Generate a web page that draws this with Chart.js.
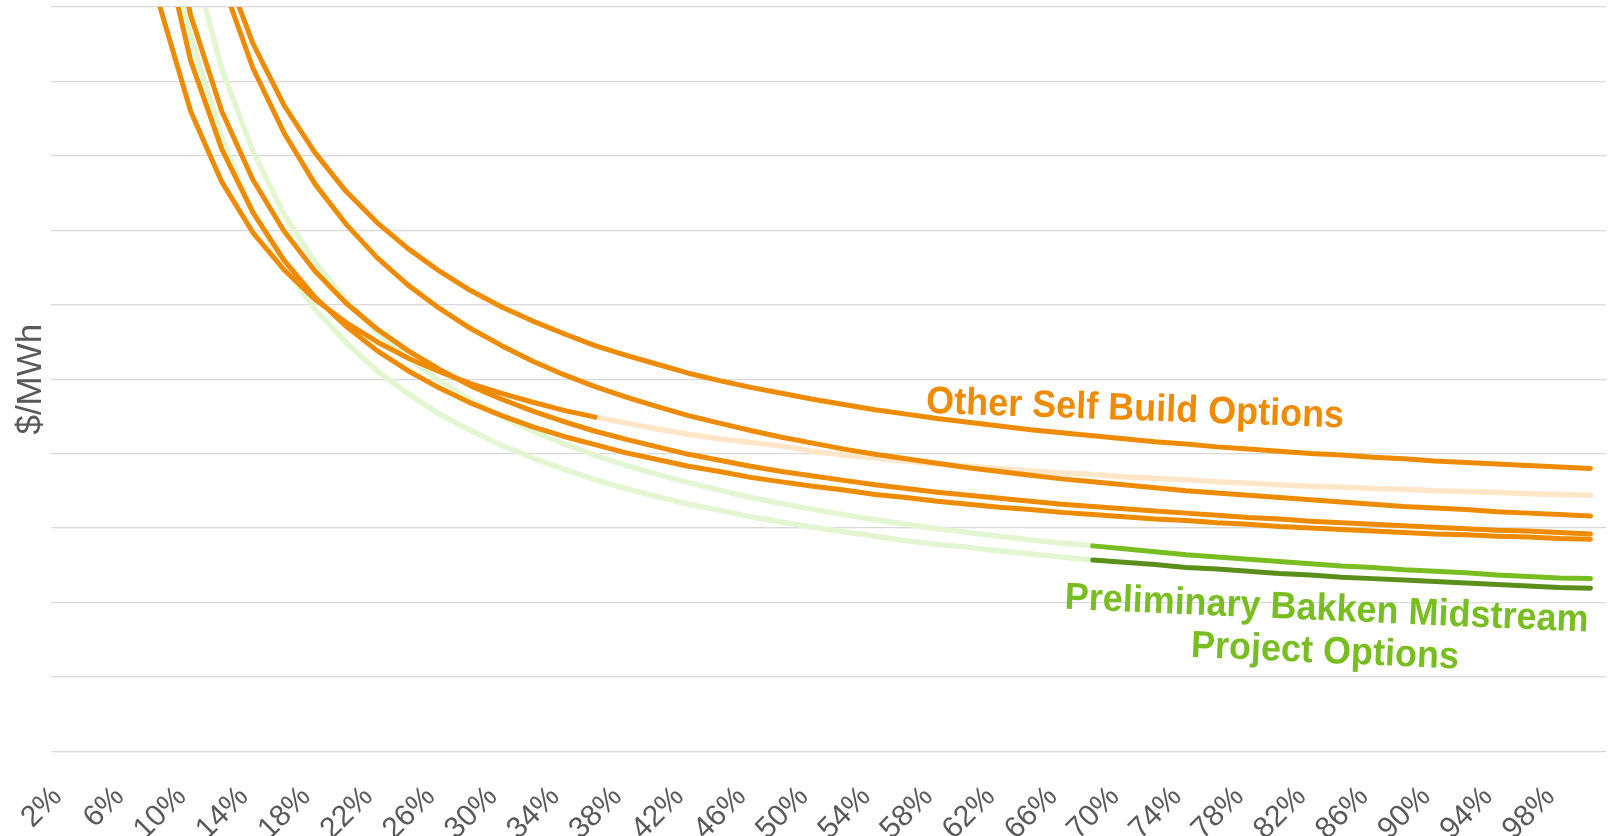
<!DOCTYPE html>
<html>
<head>
<meta charset="utf-8">
<script src="https://cdn.jsdelivr.net/npm/chart.js@4.4.1/dist/chart.umd.min.js"></script>
<style>
  html, body { margin: 0; padding: 0; background: #fff; }
  #wrap { width: 1616px; height: 836px; }
</style>
</head>
<body>
<div id="wrap"><canvas id="chart"></canvas></div>
<script>
const xLabels = ['2%', '4%', '6%', '8%', '10%', '12%', '14%', '16%', '18%', '20%',
  '22%', '24%', '26%', '28%', '30%', '32%', '34%', '36%', '38%', '40%',
  '42%', '44%', '46%', '48%', '50%', '52%', '54%', '56%', '58%', '60%',
  '62%', '64%', '66%', '68%', '70%', '72%', '74%', '76%', '78%', '80%',
  '82%', '84%', '86%', '88%', '90%', '92%', '94%', '96%', '98%', '100%'];

// other self build options ($/MWh; axis has no numbers)
const selfBuildA = [null, null, null, null, null, 106.2, 95.1, 86.8, 80.4, 75.2,
  71.0, 67.5, 64.5, 61.9, 59.7, 57.8, 56.1, 54.5, 53.2, 52.0,
  50.8, 49.8, 48.9, 48.1, 47.3, 46.6, 45.9, 45.3, 44.7, 44.2,
  43.7, 43.2, 42.8, 42.4, 42.0, 41.6, 41.3, 40.9, 40.6, 40.3,
  40.0, 39.8, 39.5, 39.3, 39.0, 38.8, 38.6, 38.4, 38.2, 38.0];
const selfBuildB = [null, null, null, null, null, 103.5, 91.8, 83.1, 76.2, 70.8,
  66.3, 62.6, 59.5, 56.8, 54.5, 52.4, 50.6, 49.0, 47.6, 46.3,
  45.1, 44.1, 43.1, 42.2, 41.4, 40.6, 39.9, 39.3, 38.7, 38.1,
  37.6, 37.1, 36.6, 36.2, 35.8, 35.4, 35.0, 34.7, 34.4, 34.1,
  33.8, 33.5, 33.2, 32.9, 32.7, 32.5, 32.2, 32.0, 31.8, 31.6];
const selfBuildC = [null, null, 123.9, 100.2, 86.0, 76.5, 69.7, 64.7, 60.7, 57.6,
  55.0, 52.8, 51.0, 49.4, 48.1, 46.9, 45.8, 44.9, 44.1, 43.3,
  42.6, 42.0, 41.5, 41.0, 40.3, 39.8, 39.4, 39.0, 38.6, 38.3,
  38.0, 37.7, 37.4, 37.2, 36.9, 36.7, 36.5, 36.2, 36.0, 35.8,
  35.6, 35.5, 35.3, 35.2, 35.0, 34.9, 34.8, 34.6, 34.5, 34.4];
const selfBuildD = [null, null, null, 110.7, 92.8, 80.9, 72.4, 66.0, 61.0, 57.1,
  53.8, 51.1, 48.8, 46.8, 45.1, 43.6, 42.3, 41.2, 40.1, 39.2,
  38.3, 37.6, 36.8, 36.2, 35.6, 35.1, 34.5, 34.1, 33.6, 33.2,
  32.8, 32.5, 32.1, 31.8, 31.5, 31.2, 31.0, 30.7, 30.5, 30.2,
  30.0, 29.8, 29.6, 29.4, 29.2, 29.1, 28.9, 28.8, 28.6, 28.5];
const selfBuildE = [null, null, null, 118.3, 98.9, 86.0, 76.8, 69.9, 64.5, 60.2,
  56.7, 53.8, 51.3, 49.1, 47.3, 45.7, 44.3, 43.0, 41.9, 40.9,
  39.9, 39.1, 38.3, 37.6, 37.0, 36.4, 35.8, 35.3, 34.8, 34.4,
  34.0, 33.6, 33.2, 32.9, 32.6, 32.3, 32.0, 31.7, 31.4, 31.2,
  30.9, 30.7, 30.5, 30.3, 30.1, 29.9, 29.7, 29.6, 29.4, 29.2];

// preliminary Bakken midstream project options
const bakkenA = [null, null, null, null, 107.3, 91.7, 80.6, 72.2, 65.7, 60.6,
  56.3, 52.8, 49.8, 47.2, 45.0, 43.0, 41.3, 39.8, 38.4, 37.2,
  36.1, 35.1, 34.1, 33.3, 32.5, 31.8, 31.1, 30.5, 29.9, 29.4,
  28.9, 28.4, 28.0, 27.6, 27.2, 26.8, 26.4, 26.1, 25.8, 25.5,
  25.2, 24.9, 24.7, 24.4, 24.2, 24.0, 23.7, 23.5, 23.3, 23.2];
const bakkenB = [null, null, null, 116.7, 96.1, 82.4, 72.5, 65.2, 59.4, 54.9,
  51.1, 48.0, 45.3, 43.1, 41.1, 39.4, 37.9, 36.5, 35.3, 34.2,
  33.2, 32.4, 31.5, 30.8, 30.1, 29.5, 28.9, 28.3, 27.8, 27.4,
  26.9, 26.5, 26.1, 25.7, 25.4, 25.1, 24.7, 24.5, 24.2, 23.9,
  23.7, 23.4, 23.2, 23.0, 22.8, 22.6, 22.4, 22.2, 22.0, 21.9];

// where the highlighted parts start / stop
const fadeAfter = xLabels.indexOf('36%');
const brightFrom = xLabels.indexOf('68%');

const ORANGE = '#EE8B00';
const PALE_ORANGE = '#FFE6C8';
const GREEN = '#78BE20';
const DARK_GREEN = '#5B8F1C';
const PALE_GREEN = '#E3F6D2';

const upTo = (arr, i) => arr.map((v, k) => k <= i ? v : null);
const from = (arr, i) => arr.map((v, k) => k >= i ? v : null);

function line(data, color, width) {
  return {
    data,
    borderColor: color,
    borderWidth: width,
    pointRadius: 0,
    pointHoverRadius: 0,
    borderCapStyle: 'round',
    borderJoinStyle: 'round',
    tension: 0,
    fill: false
  };
}

// text drawn next to the curves
const notes = [
  { text: 'Other Self Build Options', pct: 70.7, val: 44.5, tilt: 2.0, color: ORANGE },
  { text: 'Preliminary Bakken Midstream', pct: 83.0, val: 17.6, tilt: 2.5, color: GREEN },
  { text: 'Project Options', pct: 82.9, val: 11.9, tilt: 2.5, color: GREEN }
];

const curveLabels = {
  id: 'curveLabels',
  afterDatasetsDraw(chart) {
    const { ctx, scales: { x, y } } = chart;
    notes.forEach(n => {
      ctx.save();
      ctx.translate(x.getPixelForValue(n.pct / 2 - 1), y.getPixelForValue(n.val));
      ctx.rotate(n.tilt * Math.PI / 180);
      ctx.scale(1, 1.06);
      ctx.font = 'bold 36px "Liberation Sans", Arial, sans-serif';
      ctx.fillStyle = n.color;
      ctx.textAlign = 'center';
      ctx.textBaseline = 'alphabetic';
      ctx.fillText(n.text, 0, 0);
      ctx.restore();
    });
  }
};

// first dataset ends up on top
const datasets = [
  line(selfBuildA, ORANGE, 5),
  line(selfBuildB, ORANGE, 5),
  line(selfBuildD, ORANGE, 5),
  line(selfBuildE, ORANGE, 5),
  line(upTo(selfBuildC, fadeAfter), ORANGE, 5),
  line(from(bakkenA, brightFrom), GREEN, 5),
  line(from(bakkenB, brightFrom), DARK_GREEN, 5),
  line(from(selfBuildC, fadeAfter), PALE_ORANGE, 5.5),
  line(upTo(bakkenA, brightFrom), PALE_GREEN, 5.5),
  line(upTo(bakkenB, brightFrom), PALE_GREEN, 5.5)
];

new Chart(document.getElementById('chart'), {
  type: 'line',
  data: { labels: xLabels, datasets },
  options: {
    responsive: true,
    maintainAspectRatio: false,
    animation: false,
    layout: { padding: { top: 7, right: 10, left: 0, bottom: 0 } },
    plugins: {
      legend: { display: false },
      tooltip: { enabled: false }
    },
    scales: {
      x: {
        offset: true,
        grid: { display: false, drawTicks: false },
        border: { display: false },
        ticks: {
          autoSkip: false,
          minRotation: 45,
          maxRotation: 45,
          padding: 28,
          labelOffset: -9,
          color: '#595959',
          font: { size: 30, family: '"Liberation Sans", Arial, sans-serif' },
          callback(value, index) {
            return index % 2 === 0 ? this.getLabelForValue(value) : '';
          }
        },
        afterFit(scale) {
          scale.height = 84.7;
          scale.paddingLeft = 0;
          scale.paddingRight = 0;
        }
      },
      y: {
        min: 0,
        max: 100,
        ticks: { display: false, stepSize: 10 },
        grid: { color: '#D9D9D9', lineWidth: 1.3, drawTicks: false },
        border: { display: false },
        title: {
          display: true,
          text: '$/MWh',
          color: '#595959',
          font: { size: 35, family: '"Liberation Sans", Arial, sans-serif' },
          padding: { top: 10, bottom: 0 }
        },
        afterFit(scale) { scale.width = 50.7; }
      }
    }
  },
  plugins: [curveLabels]
});
</script>
</body>
</html>
